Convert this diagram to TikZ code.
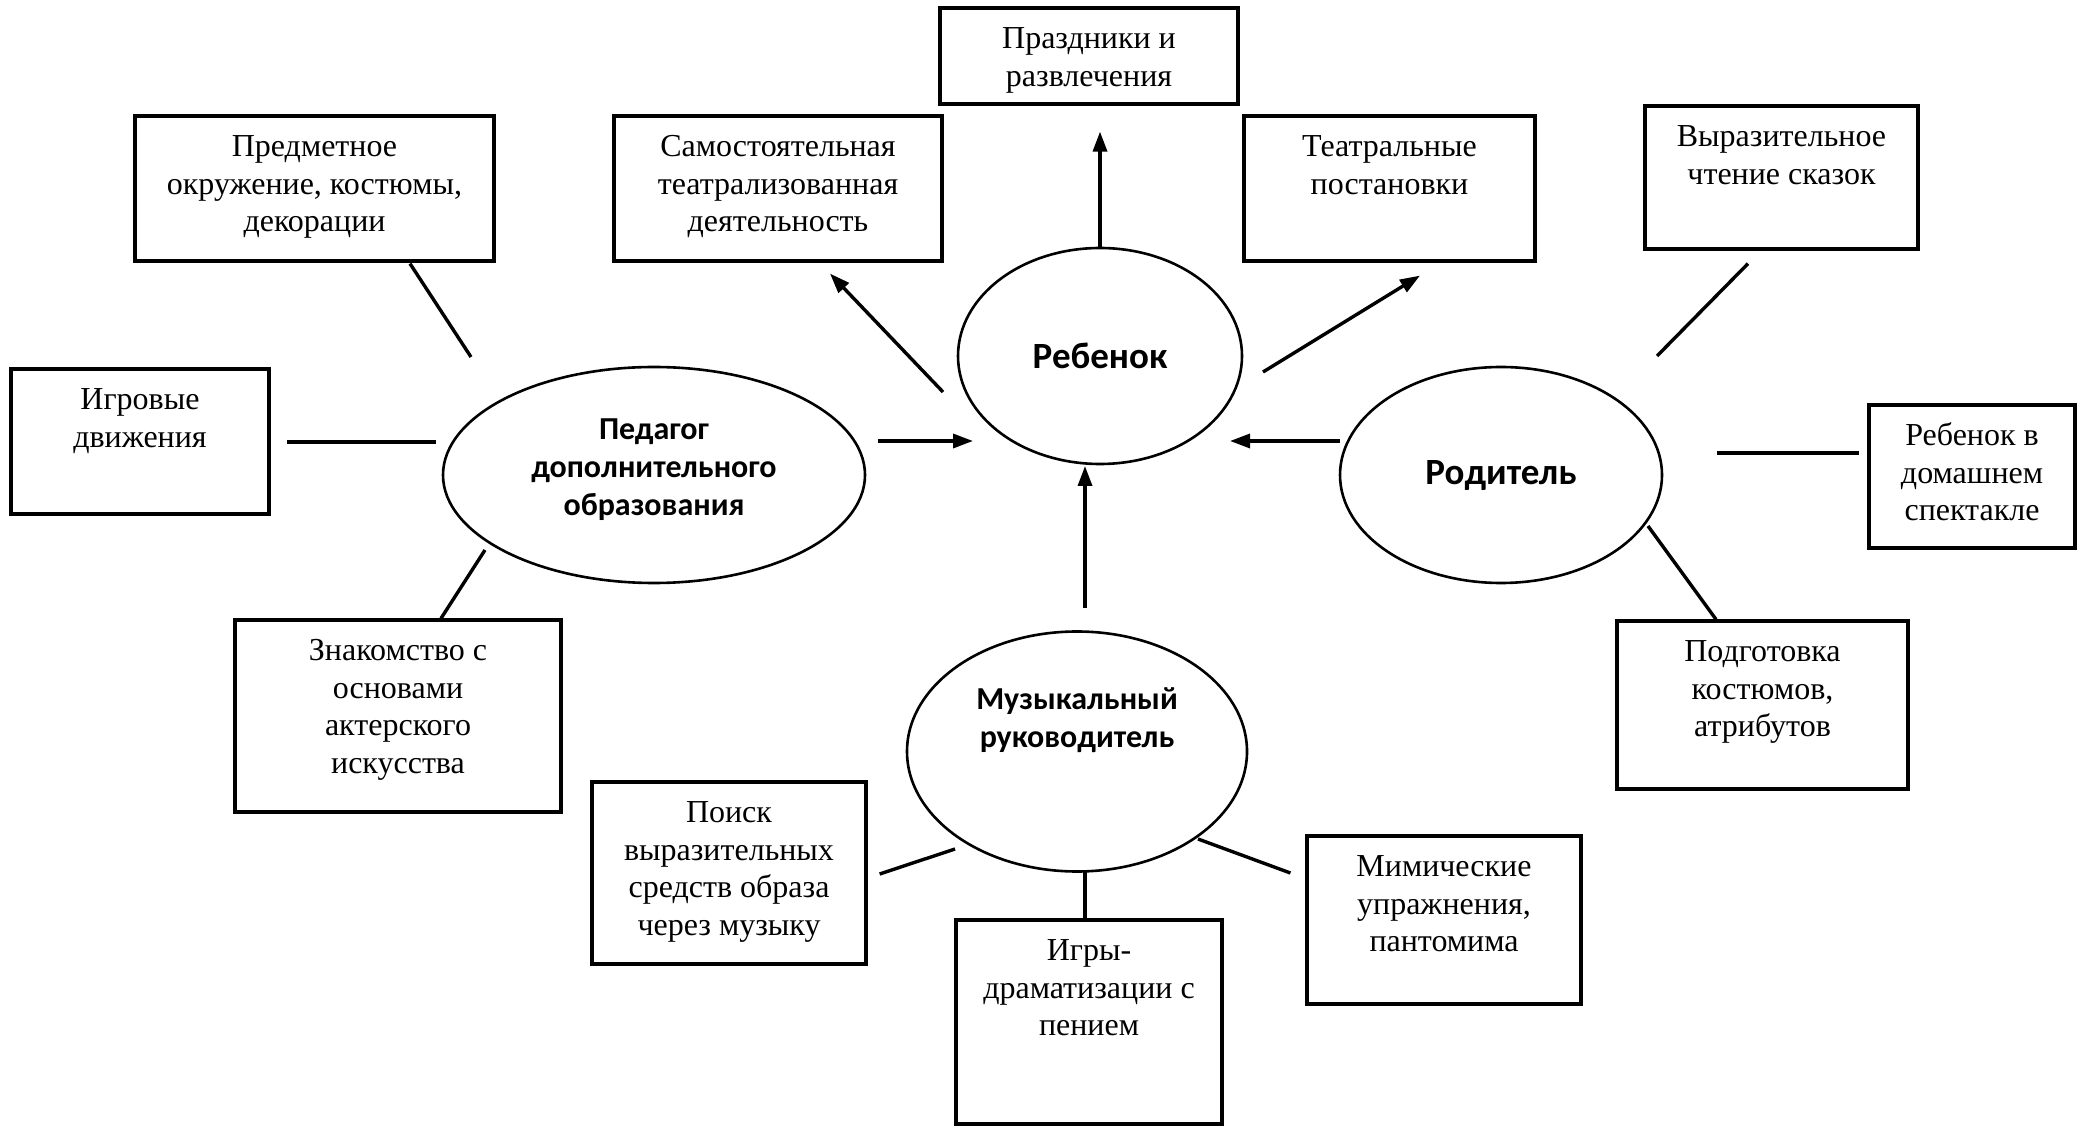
\documentclass[tikz,border=0pt]{standalone}
\usepackage{fontspec}
\setmainfont{Liberation Serif}
\newfontfamily\calfont{Carlito}
\usetikzlibrary{arrows.meta,calc,shapes.geometric}
\newcommand\bxt[3]{\parbox[c][#2][t]{#1}{\centering\fontsize{16}{18.7}\selectfont\vspace*{7.4pt}\strut #3\par}}
\tikzset{
  box/.style={draw, line width=1.6pt, inner sep=0pt},
  ell/.style={draw, ellipse, line width=1.3pt, inner sep=0pt, align=center,
    font=\calfont\bfseries\fontsize{16}{19}\selectfont},
  bigell/.style={ell, font=\calfont\bfseries\fontsize{18.5}{22}\selectfont},
  con/.style={line width=1.7pt},
  arr/.style={con, -{Triangle[length=10pt,width=7pt]}},
}
\begin{document}
\begin{tikzpicture}[x=0.5pt,y=-0.5pt]
\useasboundingbox (0,0) rectangle (2080,1127);
% boxes
\node[box] (prazd)  at (1089,56)    {\bxt{149pt}{48pt}{Праздники и\\развлечения}};
\node[box] (samost) at (778,188.5)  {\bxt{164pt}{72.5pt}{Самостоятельная\\театрализованная\\деятельность}};
\node[box] (teatr)  at (1389.5,188.5) {\bxt{145.5pt}{72.5pt}{Театральные\\постановки}};
\node[box] (predm)  at (314.5,188.5) {\bxt{179.5pt}{72.5pt}{Предметное\\окружение, костюмы,\\декорации}};
\node[box] (vyraz)  at (1781.5,177.5) {\bxt{136.5pt}{71.5pt}{Выразительное\\чтение сказок}};
\node[box] (igrov)  at (140,441.5)  {\bxt{129pt}{72.5pt}{Игровые\\движения}};
\node[box] (rebdom) at (1972,476.5) {\bxt{103pt}{71.5pt}{Ребенок в\\домашнем\\спектакле}};
\node[box] (znak)   at (398,716)    {\bxt{163pt}{96pt}{Знакомство с\\основами\\актерского\\искусства}};
\node[box] (podg)   at (1762.5,705) {\bxt{145.5pt}{84pt}{Подготовка\\костюмов,\\атрибутов}};
\node[box] (poisk)  at (729,873)    {\bxt{137pt}{91pt}{Поиск\\выразительных\\средств образа\\через музыку}};
\node[box] (igry)   at (1089,1022)  {\bxt{133pt}{102pt}{Игры-\\драматизации с\\пением}};
\node[box] (mim)    at (1444,920)   {\bxt{137pt}{84pt}{Мимические\\упражнения,\\пантомима}};
% ellipses
\node[bigell, minimum width=142pt, minimum height=108pt] (reb) at (1100,356) {Ребенок};
\node[ell, minimum width=211pt, minimum height=108pt] (ped) at (654,475)
  {\raisebox{0pt}[\height][\dimexpr\depth+5pt\relax]{\begin{tabular}{@{}c@{}}Педагог\\дополнительного\\образования\end{tabular}}};
\node[bigell, minimum width=161pt, minimum height=108pt] (rod) at (1501,475) {Родитель};
\node[ell, minimum width=170pt, minimum height=120pt] (muz) at (1077,751.5)
  {\raisebox{0pt}[\height][\dimexpr\depth+31pt\relax]{\begin{tabular}{@{}c@{}}Музыкальный\\руководитель\end{tabular}}};
% arrows to/from child
\draw[arr] (reb.north) -- ($(prazd.south)+(11,26)$);
\draw[arr] ($(reb)+(-157,36)$) -- ($(samost.south)+(52,11)$);
\draw[arr] ($(reb)+(163,16)$) -- ($(teatr.south)+(30.5,13)$);
\draw[arr] ($(ped)+(224,-34)$) -- ($(reb)+(-127,85)$);
\draw[arr] ($(rod)+(-161,-34)$) -- ($(reb)+(130,85)$);
\draw[arr] ($(muz)+(8,-143.5)$) -- ($(reb)+(-15,110)$);
% teacher lines
\draw[con] ($(ped)+(-183,-118)$) -- ($(predm.south)+(95.5,1)$);
\draw[con] ($(ped)+(-218,-33)$) -- ($(igrov.east)+(16,0.5)$);
\draw[con] ($(ped)+(-169,75)$) -- ($(znak.north)+(43,0)$);
% parent lines
\draw[con] ($(rod)+(156,-119)$) -- ($(vyraz.south)+(-33.5,13)$);
\draw[con] ($(rod)+(216,-22)$) -- ($(rebdom.west)+(-8,-23.5)$);
\draw[con] ($(rod)+(147,51)$) -- ($(podg.north)+(-46.5,0)$);
% music lines
\draw[con] ($(muz)+(-122,97.5)$) -- ($(poisk.east)+(12,1)$);
\draw[con] ($(muz)+(8,120)$) -- ($(igry.north)+(-4,0)$);
\draw[con] ($(muz)+(121,87.5)$) -- ($(mim.west)+(-15,-47)$);
\end{tikzpicture}
\end{document}
